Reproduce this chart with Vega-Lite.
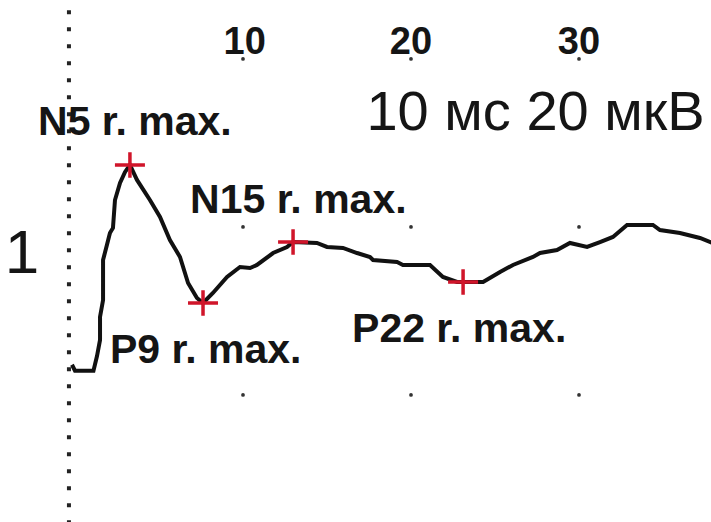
{
  "$schema": "https://vega.github.io/schema/vega-lite/v6.json",
  "width": 711,
  "height": 522,
  "autosize": {"type": "none"},
  "padding": 0,
  "background": "white",
  "config": {"view": {"stroke": null}},
  "datasets": {
    "trace": [
      {"t": -0.18, "v": 3.6}, {"t": 0.0, "v": 2.9}, {"t": 1.1, "v": 2.9}, {"t": 1.31, "v": 4.64},
      {"t": 1.49, "v": 6.55}, {"t": 1.49, "v": 9.29}, {"t": 1.67, "v": 11.31}, {"t": 1.67, "v": 16.07},
      {"t": 1.9, "v": 17.86}, {"t": 2.08, "v": 19.29}, {"t": 2.26, "v": 19.88}, {"t": 2.38, "v": 23.21},
      {"t": 2.68, "v": 25.24}, {"t": 2.98, "v": 26.55}, {"t": 3.27, "v": 27.38}, {"t": 3.69, "v": 25.6},
      {"t": 4.46, "v": 23.21}, {"t": 5.06, "v": 21.19}, {"t": 5.65, "v": 18.45}, {"t": 6.25, "v": 16.43},
      {"t": 6.73, "v": 13.33}, {"t": 7.26, "v": 11.55}, {"t": 7.62, "v": 10.95}, {"t": 8.21, "v": 12.14},
      {"t": 9.05, "v": 14.05}, {"t": 9.82, "v": 15.24}, {"t": 10.42, "v": 15.12}, {"t": 10.83, "v": 15.48},
      {"t": 11.79, "v": 16.9}, {"t": 12.62, "v": 17.62}, {"t": 12.98, "v": 18.21}, {"t": 14.4, "v": 18.1},
      {"t": 15.0, "v": 17.62}, {"t": 15.95, "v": 17.5}, {"t": 16.79, "v": 16.9}, {"t": 17.56, "v": 16.43},
      {"t": 17.74, "v": 16.07}, {"t": 19.17, "v": 15.83}, {"t": 19.52, "v": 15.48}, {"t": 21.13, "v": 15.48},
      {"t": 21.9, "v": 14.05}, {"t": 22.74, "v": 13.45}, {"t": 23.1, "v": 13.45}, {"t": 24.29, "v": 13.45},
      {"t": 25.3, "v": 14.64}, {"t": 26.07, "v": 15.48}, {"t": 27.26, "v": 16.43}, {"t": 27.68, "v": 16.9},
      {"t": 28.69, "v": 17.26}, {"t": 29.46, "v": 18.1}, {"t": 30.48, "v": 17.62}, {"t": 31.25, "v": 18.21},
      {"t": 32.02, "v": 18.81}, {"t": 32.86, "v": 20.24}, {"t": 34.4, "v": 20.24}, {"t": 34.82, "v": 19.64},
      {"t": 36.01, "v": 19.29}, {"t": 37.2, "v": 18.69}, {"t": 38.2, "v": 17.9}
    ],
    "peaks": [
      {"name": "N5", "t": 3.27, "v": 27.38},
      {"name": "P9", "t": 7.62, "v": 10.95},
      {"name": "N15", "t": 12.98, "v": 18.21},
      {"name": "P22", "t": 23.1, "v": 13.45}
    ],
    "grid": [
      {"t": 10, "v": 0}, {"t": 20, "v": 0}, {"t": 30, "v": 0},
      {"t": 10, "v": 20}, {"t": 20, "v": 20}, {"t": 30, "v": 20},
      {"t": 10, "v": 40}, {"t": 20, "v": 40}, {"t": 30, "v": 40}
    ],
    "peakLabels": [
      {"label": "N5 r. max.", "t": -2.2, "v": 30.95},
      {"label": "N15 r. max.", "t": 6.85, "v": 21.67},
      {"label": "P9 r. max.", "t": 2.08, "v": 3.81},
      {"label": "P22 r. max.", "t": 16.49, "v": 6.31}
    ],
    "ticks": [
      {"label": "10", "t": 10.1, "v": 40.6},
      {"label": "20", "t": 20.0, "v": 40.6},
      {"label": "30", "t": 30.0, "v": 40.6}
    ],
    "scaleText": [{"label": "10 мс 20 мкВ", "t": 17.35, "v": 31.55}],
    "channel": [{"label": "1", "t": -3.15, "v": 14.52}],
    "marker": [{"t": -0.36, "v1": 45.8, "v2": -16.0}]
  },
  "layer": [
    {
      "data": {"name": "marker"},
      "mark": {"type": "rule", "stroke": "#222", "strokeWidth": 4, "strokeDash": [4, 13]},
      "encoding": {
        "x": {"field": "t", "type": "quantitative", "scale": {"domain": [-4.464, 37.857], "nice": false, "zero": false}, "axis": null},
        "y": {"field": "v1", "type": "quantitative", "scale": {"domain": [-15.12, 47.02], "nice": false, "zero": false}, "axis": null},
        "y2": {"field": "v2"}
      }
    },
    {
      "data": {"name": "grid"},
      "mark": {"type": "point", "filled": true, "color": "#333", "size": 14, "opacity": 1},
      "encoding": {
        "x": {"field": "t", "type": "quantitative", "scale": {"domain": [-4.464, 37.857], "nice": false, "zero": false}, "axis": null},
        "y": {"field": "v", "type": "quantitative", "scale": {"domain": [-15.12, 47.02], "nice": false, "zero": false}, "axis": null}
      }
    },
    {
      "data": {"name": "trace"},
      "mark": {"type": "line", "color": "#111", "strokeWidth": 4, "strokeJoin": "miter"},
      "encoding": {
        "x": {"field": "t", "type": "quantitative", "scale": {"domain": [-4.464, 37.857], "nice": false, "zero": false}, "axis": null},
        "y": {"field": "v", "type": "quantitative", "scale": {"domain": [-15.12, 47.02], "nice": false, "zero": false}, "axis": null},
        "order": {"value": 0}
      }
    },
    {
      "data": {"name": "peaks"},
      "mark": {"type": "point", "shape": "M-1,0L1,0M0,-0.85L0,0.85", "filled": false, "stroke": "#d0152a", "strokeWidth": 3.5, "size": 900, "opacity": 1},
      "encoding": {
        "x": {"field": "t", "type": "quantitative", "scale": {"domain": [-4.464, 37.857], "nice": false, "zero": false}, "axis": null},
        "y": {"field": "v", "type": "quantitative", "scale": {"domain": [-15.12, 47.02], "nice": false, "zero": false}, "axis": null}
      }
    },
    {
      "data": {"name": "peakLabels"},
      "mark": {"type": "text", "align": "left", "baseline": "alphabetic", "font": "Liberation Sans", "fontWeight": "bold", "fontSize": 41, "color": "#151515"},
      "encoding": {
        "x": {"field": "t", "type": "quantitative", "scale": {"domain": [-4.464, 37.857], "nice": false, "zero": false}, "axis": null},
        "y": {"field": "v", "type": "quantitative", "scale": {"domain": [-15.12, 47.02], "nice": false, "zero": false}, "axis": null},
        "text": {"field": "label"}
      }
    },
    {
      "data": {"name": "ticks"},
      "mark": {"type": "text", "align": "center", "baseline": "alphabetic", "font": "Liberation Sans", "fontWeight": "bold", "fontSize": 38, "color": "#151515"},
      "encoding": {
        "x": {"field": "t", "type": "quantitative", "scale": {"domain": [-4.464, 37.857], "nice": false, "zero": false}, "axis": null},
        "y": {"field": "v", "type": "quantitative", "scale": {"domain": [-15.12, 47.02], "nice": false, "zero": false}, "axis": null},
        "text": {"field": "label"}
      }
    },
    {
      "data": {"name": "scaleText"},
      "mark": {"type": "text", "align": "left", "baseline": "alphabetic", "font": "Liberation Sans", "fontSize": 56, "color": "#151515"},
      "encoding": {
        "x": {"field": "t", "type": "quantitative", "scale": {"domain": [-4.464, 37.857], "nice": false, "zero": false}, "axis": null},
        "y": {"field": "v", "type": "quantitative", "scale": {"domain": [-15.12, 47.02], "nice": false, "zero": false}, "axis": null},
        "text": {"field": "label"}
      }
    },
    {
      "data": {"name": "channel"},
      "mark": {"type": "text", "align": "center", "baseline": "alphabetic", "font": "Liberation Sans", "fontSize": 62, "color": "#151515"},
      "encoding": {
        "x": {"field": "t", "type": "quantitative", "scale": {"domain": [-4.464, 37.857], "nice": false, "zero": false}, "axis": null},
        "y": {"field": "v", "type": "quantitative", "scale": {"domain": [-15.12, 47.02], "nice": false, "zero": false}, "axis": null},
        "text": {"field": "label"}
      }
    }
  ]
}
